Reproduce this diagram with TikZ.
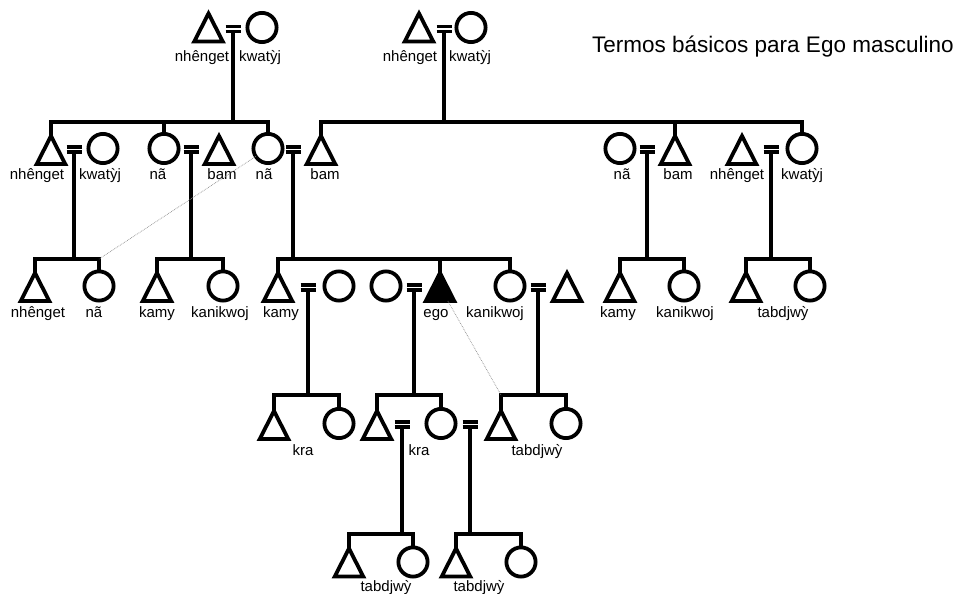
\documentclass[tikz,border=0pt]{standalone}
\usepackage{fontspec}
\setmainfont{Liberation Sans}
\begin{document}
\begin{tikzpicture}[x=1pt,y=-1pt,
  kin/.style={line width=4pt},
  eqbar/.style={line width=3.4pt},
  tri/.style={rectangle, minimum width=28.5pt, minimum height=28pt, inner sep=0pt, outer sep=0pt},
  triline/.style={line width=3.8pt, line join=miter},
  circ/.style={draw, line width=3.8pt, circle, minimum size=29.2pt, inner sep=0pt, outer sep=0pt},
  lbl/.style={anchor=base, inner sep=0pt, font=\fontsize{15}{18}\selectfont},
  guide/.style={densely dotted, black!45, line width=0.7pt}]
\fill[white] (0,0) rectangle (959,594);
\useasboundingbox (0,0) rectangle (959,594);

\node[anchor=base west, inner sep=0pt, font=\fontsize{22.5}{27}\selectfont] (title) at (592,53) {Termos básicos para Ego masculino};

% sibling levels
\coordinate (sA) at (0,122);
\coordinate (sB) at (0,259);
\coordinate (sC) at (0,395);
\coordinate (sD) at (0,534);

% ---------- Row 1
\node[tri] (T1) at (208.5,27.5) {};
\node[circ] (C1) at (262,27.5) {};
\coordinate (m1) at (233,31.5);
\node[tri] (T2) at (419,27.5) {};
\node[circ] (C2) at (471,27.5) {};
\coordinate (m2) at (444,31.5);
\node[lbl] (l1) at (202,62) {nhênget};
\node[lbl] (l2) at (260,62) {kwatỳj};
\node[lbl] (l3) at (410,62) {nhênget};
\node[lbl] (l4) at (470,62) {kwatỳj};

% ---------- Row 2
\node[tri] (T3) at (51,150) {};
\coordinate (m3) at (74,152);
\node[circ] (C3) at (103,148.5) {};
\node[circ] (C4) at (164,148.5) {};
\coordinate (m4) at (191,152);
\node[tri] (T4) at (219,150) {};
\node[circ] (C5) at (268,148.5) {};
\coordinate (m5) at (293,152);
\node[tri] (T5) at (321,150) {};
\node[circ] (C6) at (620,148.5) {};
\coordinate (m6) at (647,152);
\node[tri] (T6) at (675,150) {};
\node[tri] (T7) at (742,150) {};
\coordinate (m7) at (771,152);
\node[circ] (C7) at (802,148.5) {};
\node[lbl] (l5) at (37,179) {nhênget};
\node[lbl] (l6) at (100,179) {kwatỳj};
\node[lbl] (l7) at (158,179) {nã};
\node[lbl] (l8) at (222,179) {bam};
\node[lbl] (l9) at (264,179) {nã};
\node[lbl] (l10) at (325,179) {bam};
\node[lbl] (l11) at (622,179) {nã};
\node[lbl] (l12) at (678,179) {bam};
\node[lbl] (l13) at (737,179) {nhênget};
\node[lbl] (l14) at (802,179) {kwatỳj};

% ---------- Row 3
\node[tri] (T8) at (35,287) {};
\node[circ] (C8) at (99,286) {};
\node[tri] (T9) at (157,287) {};
\node[circ] (C9) at (223,286) {};
\node[tri] (T10) at (278,287) {};
\coordinate (m10) at (308,290);
\node[circ] (C10) at (339,286) {};
\node[circ] (C11) at (386,286) {};
\coordinate (m11) at (414,290);
\node[tri] (ego) at (440,287) {};
\node[circ] (C12) at (510,286) {};
\coordinate (m12) at (538,290);
\node[tri] (T12) at (567,287) {};
\node[tri] (T13) at (620,287) {};
\node[circ] (C13) at (684,286) {};
\node[tri] (T14) at (746,287) {};
\node[circ] (C14) at (810,286) {};
\node[lbl] (l15) at (38,317) {nhênget};
\node[lbl] (l16) at (94,317) {nã};
\node[lbl] (l17) at (157,317) {kamy};
\node[lbl] (l18) at (220,317) {kanikwoj};
\node[lbl] (l19) at (281,317) {kamy};
\node[lbl] (l20) at (436,317) {ego};
\node[lbl] (l21) at (495,317) {kanikwoj};
\node[lbl] (l22) at (618,317) {kamy};
\node[lbl] (l23) at (685,317) {kanikwoj};
\node[lbl] (l24) at (783,317) {tabdjwỳ};

% ---------- Row 4
\node[tri] (T15) at (274,425) {};
\node[circ] (C15) at (339,423.5) {};
\node[tri] (T16) at (377,425) {};
\coordinate (m16) at (402,427);
\node[circ] (C16) at (441,423.5) {};
\coordinate (m17) at (470,427);
\node[tri] (T17) at (501,425) {};
\node[circ] (C17) at (566,423.5) {};
\node[lbl] (l25) at (303,455) {kra};
\node[lbl] (l26) at (419,455) {kra};
\node[lbl] (l27) at (537,455) {tabdjwỳ};

% ---------- Row 5
\node[tri] (T18) at (349,562.5) {};
\node[circ] (C18) at (413,562) {};
\node[tri] (T19) at (456,562.5) {};
\node[circ] (C19) at (521,562) {};
\node[lbl] (l28) at (386,591) {tabdjwỳ};
\node[lbl] (l29) at (479,591) {tabdjwỳ};

% ---------- triangle outlines
\foreach \t in {T1,T2,T3,T4,T5,T6,T7,T8,T9,T10,T12,T13,T14,T15,T16,T17,T18,T19}{
  \draw[triline] (\t.north) -- (\t.south east) -- (\t.south west) -- cycle;
}
\filldraw[triline] (ego.north) -- (ego.south east) -- (ego.south west) -- cycle;

% ---------- marriage signs
\foreach \m in {m1,m2,m3,m4,m5,m6,m7,m10,m11,m12,m16,m17}{
  \draw[eqbar] (\m) ++(-7.5,0) -- ++(15,0) ++(-15,-5) -- ++(15,0);
}

% ---------- descent lines
\draw[kin] (m1) -- (m1 |- sA);
\draw[kin] (T3.north) -- (T3.north |- sA) -- (C5.north |- sA) -- (C5.north);
\draw[kin] (C4.north) -- (C4.north |- sA);
\draw[kin] (m2) -- (m2 |- sA);
\draw[kin] (T5.north) -- (T5.north |- sA) -- (C7.north |- sA) -- (C7.north);
\draw[kin] (T6.north) -- (T6.north |- sA);

\draw[kin] (m3) -- (m3 |- sB);
\draw[kin] (T8.north) -- (T8.north |- sB) -- (C8.north |- sB) -- (C8.north);
\draw[kin] (m4) -- (m4 |- sB);
\draw[kin] (T9.north) -- (T9.north |- sB) -- (C9.north |- sB) -- (C9.north);
\draw[kin] (m5) -- (m5 |- sB);
\draw[kin] (T10.north) -- (T10.north |- sB) -- (C12.north |- sB) -- (C12.north);
\draw[kin] (ego.north) -- (ego.north |- sB);
\draw[kin] (m6) -- (m6 |- sB);
\draw[kin] (T13.north) -- (T13.north |- sB) -- (C13.north |- sB) -- (C13.north);
\draw[kin] (m7) -- (m7 |- sB);
\draw[kin] (T14.north) -- (T14.north |- sB) -- (C14.north |- sB) -- (C14.north);

\draw[kin] (m10) -- (m10 |- sC);
\draw[kin] (T15.north) -- (T15.north |- sC) -- (C15.north |- sC) -- (C15.north);
\draw[kin] (m11) -- (m11 |- sC);
\draw[kin] (T16.north) -- (T16.north |- sC) -- (C16.north |- sC) -- (C16.north);
\draw[kin] (m12) -- (m12 |- sC);
\draw[kin] (T17.north) -- (T17.north |- sC) -- (C17.north |- sC) -- (C17.north);

\draw[kin] (m16) -- (m16 |- sD);
\draw[kin] (T18.north) -- (T18.north |- sD) -- (C18.north |- sD) -- (C18.north);
\draw[kin] (m17) -- (m17 |- sD);
\draw[kin] (T19.north) -- (T19.north |- sD) -- (C19.north |- sD) -- (C19.north);

% ---------- dotted guides
\draw[guide] (C5) -- (C8.north |- sB);
\draw[guide] (ego) -- (T17.north |- sC);
\end{tikzpicture}
\end{document}
